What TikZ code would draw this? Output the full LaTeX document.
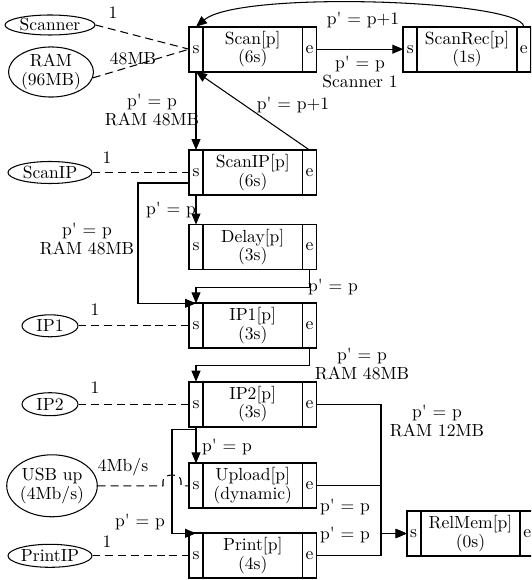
\documentclass[tikz,border=0pt]{standalone}
\usetikzlibrary{positioning,arrows.meta,calc,shapes.geometric}

\tikzset{
	cell/.style={draw, line width=1.1pt, minimum width=0.28cm, minimum height=0.9cm, inner sep=0pt, outer sep=0pt},
	body/.style={draw, line width=1.1pt, minimum width=1.99cm, minimum height=0.9cm, inner sep=0pt, outer sep=0pt, align=center},
	res/.style={draw, ellipse, line width=0.6pt, inner sep=0pt, align=center},
	dep/.style={line width=0.6pt, dash pattern=on 4.5pt off 2.8pt},
	flow/.style={line width=0.6pt, -{Triangle[length=0.22cm, width=0.18cm]}},
	lbl/.style={inner sep=0pt, align=center}
}
% record node: s | title (time) | e
\newcommand{\tasknode}[4]{%
	\node[cell] (#1s) at (#2) {s};
	\node[body, right=0pt of #1s] (#1) {#3\\(#4)};
	\node[cell, right=0pt of #1] (#1e) {e};
}
\newcommand{\pq}{p\textquotesingle}

\begin{document}
\begin{tikzpicture}[x=0.02cm, y=-0.02cm, font=\fontsize{10pt}{10.5pt}\selectfont]
	\clip (0,0) rectangle (531,580);
	% Tasks:
	\tasknode{scan}{196,49.2}{Scan[p]}{6s}
	\tasknode{scanrec}{410.3,49.2}{ScanRec[p]}{1s}
	\tasknode{scanip}{196,172.5}{ScanIP[p]}{6s}
	\tasknode{delay}{196,247}{Delay[p]}{3s}
	\tasknode{ipa}{196,325.8}{IP1[p]}{3s}
	\tasknode{ipb}{196,404.2}{IP2[p]}{3s}
	\tasknode{upload}{196,485.8}{Upload[p]}{dynamic}
	\tasknode{print}{196,555.8}{Print[p]}{4s}
	\tasknode{relmem}{413.7,533.5}{RelMem[p]}{0s}
	% Resources:
	\node[res, minimum width=1.8cm, minimum height=0.4cm] (rscanner) at (50,25) {Scanner};
	\node[res, minimum width=1.7cm, minimum height=0.94cm] (rram) at (51,72) {RAM\\(96MB)};
	\node[res, minimum width=1.68cm, minimum height=0.44cm] (rscanip) at (50,172.5) {ScanIP};
	\node[res, minimum width=1.12cm, minimum height=0.44cm] (ripa) at (50,325.8) {IP1};
	\node[res, minimum width=1.12cm, minimum height=0.46cm] (ripb) at (50,404.2) {IP2};
	\node[res, minimum width=1.8cm, minimum height=1.24cm] (rusb) at (52,485.8) {USB up\\(4Mb/s)};
	\node[res, minimum width=1.68cm, minimum height=0.46cm] (rprintip) at (50,555.8) {PrintIP};
	% Bends:
	\coordinate (kscanip) at (138,250);
	\coordinate (kipb) at (172,480);
	\coordinate (join) at (381,533.5);
	% Resource use:
	\draw[dep] (rscanner.east) -- (scans.west);
	\draw[dep] (rram.-8) -- (scans.west);
	\draw[dep] (rscanip) -- (scanips.west);
	\draw[dep] (ripa) -- (ipas.west);
	\draw[dep] (ripb) -- (ipbs.west);
	\draw[dep] (rusb) -- (163,485.8) -- (163,481) .. controls (163,473) and (181,473) .. (181,481) -- (181,485.8) -- (uploads.west);
	\draw[dep] (rprintip) -- (prints.west);
	% Precedences:
	\draw[flow] (scane.east) -- (scanrecs.west);
	\draw[flow] (scanrece.north) .. controls (522,0) and (240,-10) .. (scans.north);
	\draw[flow] (scans.south) -- (scanips.north);
	\draw[flow] (scanipe.north) -- (scans.south);
	\draw[flow] (scanips.south) -- (delays.north);
	\draw[flow] ($(scanips.west)+(0,10.5)$) -| (kscanip) |- (ipas.north);
	\draw[flow] (delaye.south) -- ++(0,18) -| (ipas.north);
	\draw[flow] (ipae.south) -- ++(0,17) -| (ipbs.north);
	\draw[flow] (ipbs.south) -- (uploads.north);
	\draw[flow] (ipbs.south) -- ++(0,3) -| (kipb) |- (prints.north);
	\draw[flow] (ipbe.east) -| (join) -- (relmems.west);
	\draw[flow] (uploade.east) -| (join) -- (relmems.west);
	\draw[flow] (printe.east) -| (join) -- (relmems.west);
	% Labels:
	\node[lbl] (lscanner) at (113,13) {1};
	\node[lbl] (lram) at (133,59) {48MB};
	\node[lbl] (lscanscanip) at (152,110) {\pq{} = p\\RAM 48MB};
	\node[lbl] (lscanipscan) at (293,105) {\pq{} = p+1};
	\node[lbl] (lscanscanrec) at (360,72) {\pq{} = p\\Scanner 1};
	\node[lbl] (lscanrecscan) at (363,20) {\pq{} = p+1};
	\node[lbl] (lscanip) at (107,158) {1};
	\node[lbl] (lscanipdelay) at (171,210) {\pq{} = p};
	\node[lbl] (lscanipipa) at (87,239) {\pq{} = p\\RAM 48MB};
	\node[lbl] (lipa) at (95,310) {1};
	\node[lbl] (ldelayipa) at (333,287) {\pq{} = p};
	\node[lbl] (lipaipb) at (362,364) {\pq{} = p\\RAM 48MB};
	\node[lbl] (lipb) at (95,388) {1};
	\node[lbl] (lipbupload) at (227,447) {\pq{} = p};
	\node[lbl] (lusb) at (123,467) {4Mb/s};
	\node[lbl] (lipbprint) at (140,522) {\pq{} = p};
	\node[lbl] (lprintip) at (107,542) {1};
	\node[lbl] (lipbrelmem) at (437,421) {\pq{} = p\\RAM 12MB};
	\node[lbl] (luploadrelmem) at (345,507) {\pq{} = p};
	\node[lbl] (lprintrelmem) at (345,535) {\pq{} = p};
\end{tikzpicture}
\end{document}
